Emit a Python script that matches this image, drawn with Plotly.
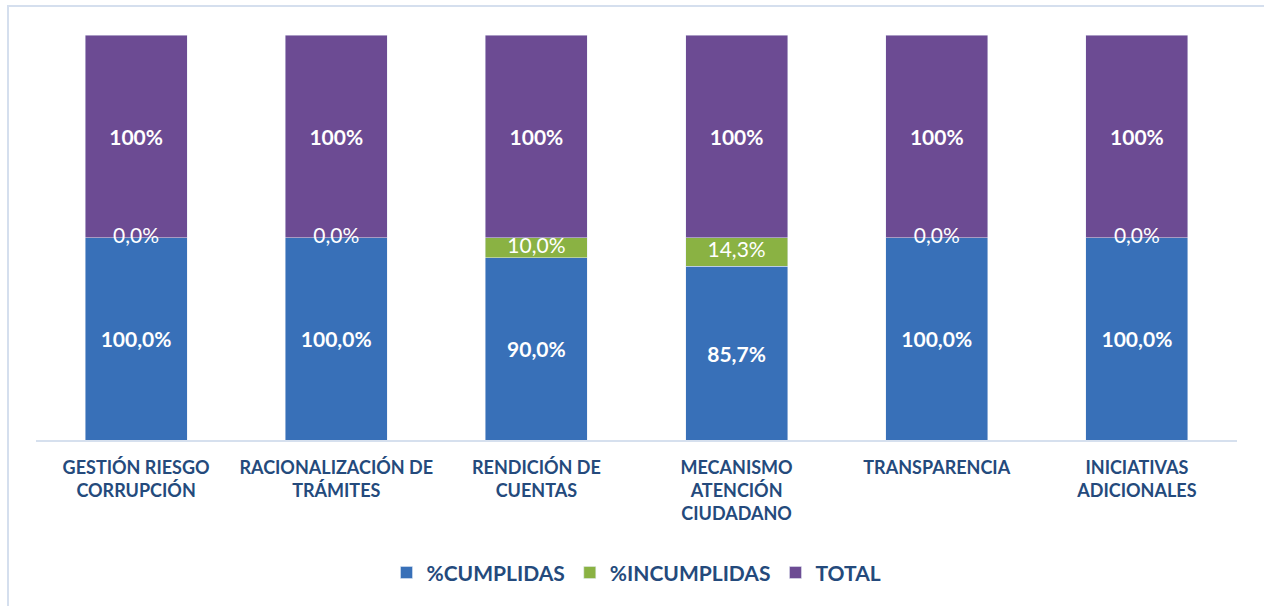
import plotly.graph_objects as go

categories = ["GESTIÓN RIESGO<br>CORRUPCIÓN", "RACIONALIZACIÓN DE<br>TRÁMITES",
              "RENDICIÓN DE<br>CUENTAS", "MECANISMO<br>ATENCIÓN<br>CIUDADANO",
              "TRANSPARENCIA", "INICIATIVAS<br>ADICIONALES"]
cumplidas = [100.0, 100.0, 90.0, 85.7, 100.0, 100.0]
incumplidas = [0.0, 0.0, 10.0, 14.3, 0.0, 0.0]
total = [100, 100, 100, 100, 100, 100]

def pct1(v):
    return f"{v:.1f}".replace(".", ",") + "%"

BLUE = "#3870B8"
GREEN = "#8AB243"
PURPLE = "#6C4B93"
TXT = "#244A7C"
FONT = "Lato"

fig = go.Figure()
fig.add_trace(go.Bar(
    x=categories, y=cumplidas, name="%CUMPLIDAS", marker_color=BLUE,
    text=[pct1(v) for v in cumplidas], textposition="inside", insidetextanchor="middle",
    textfont=dict(family=FONT, size=21, color="white", weight="bold"),
    textangle=0, hoverinfo="skip"))
fig.add_trace(go.Bar(
    x=categories, y=incumplidas, name="%INCUMPLIDAS", marker_color=GREEN,
    hoverinfo="skip"))
fig.add_trace(go.Bar(
    x=categories, y=total, name="TOTAL", marker_color=PURPLE,
    text=[f"{v}%" for v in total], textposition="inside", insidetextanchor="middle",
    textfont=dict(family=FONT, size=21, color="white", weight="bold"),
    textangle=0, hoverinfo="skip"))
# labels for %INCUMPLIDAS at the middle of each green segment
fig.add_trace(go.Scatter(
    x=categories, y=[c + i / 2 for c, i in zip(cumplidas, incumplidas)],
    mode="text", text=[pct1(v) for v in incumplidas],
    textfont=dict(family=FONT, size=21, color="white"),
    showlegend=False, hoverinfo="skip", cliponaxis=False))

fig.update_layout(
    width=1264, height=606,
    barmode="stack", bargap=0.49,
    margin=dict(l=36, r=27, t=35, b=166),
    paper_bgcolor="white", plot_bgcolor="white",
    showlegend=True,
    legend=dict(orientation="h", x=0.5, xanchor="center", y=-0.328, yanchor="middle",
                font=dict(family=FONT, size=21, color=TXT, weight="bold"),
                traceorder="normal", itemclick=False, itemwidth=30),
    xaxis=dict(showline=True, linecolor="#D6E0EE", linewidth=2, ticks="",
               tickfont=dict(family=FONT, size=18, color=TXT, weight="bold"),
               ticklabelstandoff=10, showgrid=False),
    yaxis=dict(range=[0, 200], visible=False, showgrid=False),
    shapes=[dict(type="rect", xref="paper", yref="paper",
                 x0=-0.0233, x1=1.05, y0=-0.5, y1=1.0716,
                 line=dict(color="#D5DFEE", width=2), fillcolor="rgba(0,0,0,0)",
                 layer="below")],
)

fig.write_html("out.html")
